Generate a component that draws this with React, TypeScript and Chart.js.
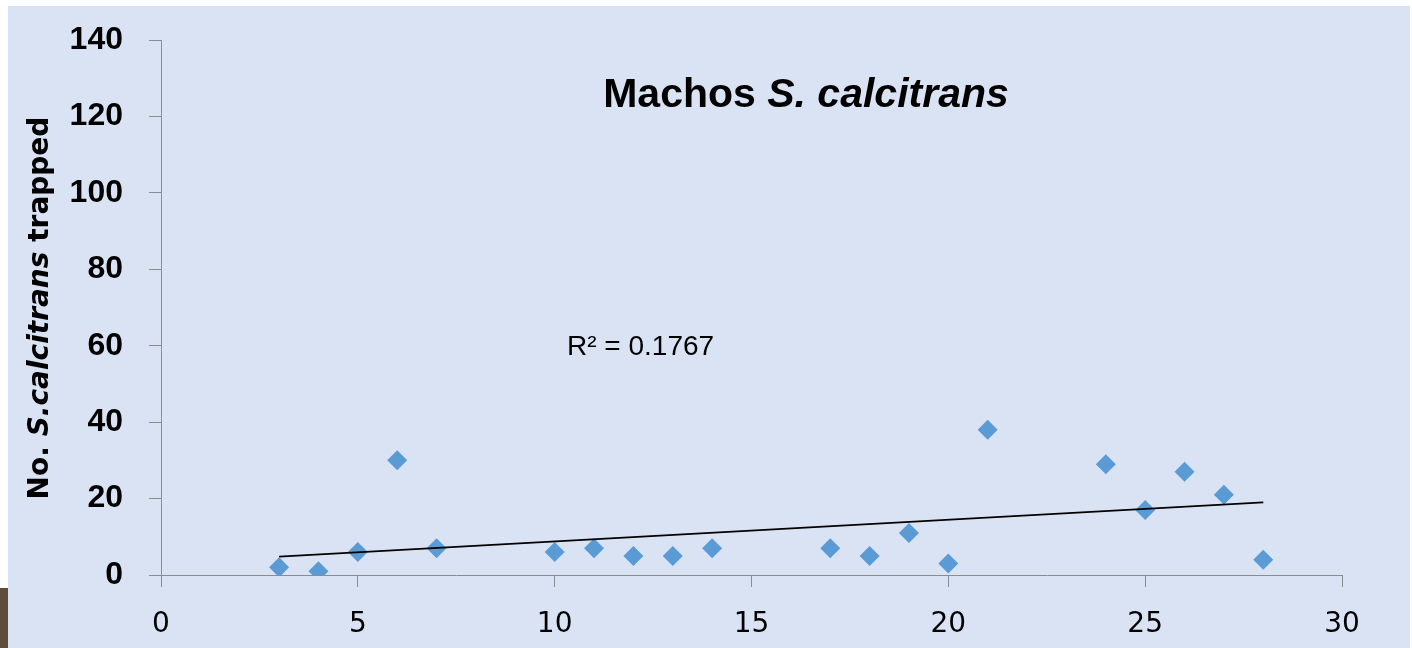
import React, { useEffect, useRef } from "react";
import { Chart, registerables } from "chart.js";

Chart.register(...registerables);

// ---- data ----
const trapDays = [3, 4, 5, 6, 7, 10, 11, 12, 13, 14, 17, 18, 19, 20, 21, 24, 25, 26, 27, 28];
const maleCounts = [2, 1, 6, 30, 7, 6, 7, 5, 5, 7, 7, 5, 11, 3, 38, 29, 17, 27, 21, 4];
const xTickValues = [0, 5, 10, 15, 20, 25, 30];
const yTickValues = [0, 20, 40, 60, 80, 100, 120, 140];
const titleParts = [
  { text: "Machos ", italic: false },
  { text: "S. calcitrans", italic: true },
];
const yTitleParts = [
  { text: "No. ", italic: false },
  { text: "S.calcitrans", italic: true },
  { text: " trapped", italic: false },
];

function linearFit(xs: number[], ys: number[]) {
  const n = xs.length;
  const mx = xs.reduce((a, b) => a + b, 0) / n;
  const my = ys.reduce((a, b) => a + b, 0) / n;
  let sxy = 0, sxx = 0, syy = 0;
  for (let i = 0; i < n; i++) {
    sxy += (xs[i] - mx) * (ys[i] - my);
    sxx += (xs[i] - mx) ** 2;
    syy += (ys[i] - my) ** 2;
  }
  const slope = sxy / sxx;
  const intercept = my - slope * mx;
  return { slope, intercept, r2: (sxy * sxy) / (sxx * syy) };
}

const BG = "#dae3f3";
const AXIS = "#8c8c8c";

function drawRich(
  ctx: CanvasRenderingContext2D,
  parts: { text: string; italic: boolean }[],
  family: string,
  size: number,
  cx: number,
  baseline: number,
  rotate: boolean
) {
  ctx.save();
  ctx.fillStyle = "#000";
  ctx.textBaseline = "alphabetic";
  ctx.textAlign = "left";
  const fontOf = (it: boolean) => `${it ? "italic " : ""}bold ${size}px "${family}"`;
  let total = 0;
  const widths = parts.map((p) => {
    ctx.font = fontOf(p.italic);
    const w = ctx.measureText(p.text).width;
    total += w;
    return w;
  });
  if (rotate) {
    ctx.translate(baseline, cx);
    ctx.rotate(-Math.PI / 2);
    let x = -total / 2;
    parts.forEach((p, i) => {
      ctx.font = fontOf(p.italic);
      ctx.fillText(p.text, x, 0);
      x += widths[i];
    });
  } else {
    let x = cx - total / 2;
    parts.forEach((p, i) => {
      ctx.font = fontOf(p.italic);
      ctx.fillText(p.text, x, baseline);
      x += widths[i];
    });
  }
  ctx.restore();
}

export default function App() {
  const ref = useRef<HTMLCanvasElement | null>(null);

  useEffect(() => {
    if (!ref.current) return;
    const fit = linearFit(trapDays, maleCounts);
    const xMin = Math.min(...trapDays);
    const xMax = Math.max(...trapDays);
    const trend = [
      { x: xMin, y: fit.intercept + fit.slope * xMin },
      { x: xMax, y: fit.intercept + fit.slope * xMax },
    ];
    const points = trapDays.map((d, i) => ({ x: d, y: maleCounts[i] }));

    const decor = {
      id: "decor",
      beforeDraw(chart: any) {
        const { ctx, width, height } = chart;
        ctx.save();
        ctx.fillStyle = BG;
        ctx.fillRect(0, 0, width, height);
        ctx.restore();
      },
      afterDraw(chart: any) {
        const ctx = chart.ctx as CanvasRenderingContext2D;
        drawRich(ctx, titleParts, "Liberation Sans", 41, 798, 101, false);
        drawRich(ctx, yTitleParts, "DejaVu Sans", 28, 302, 40, true);
        ctx.save();
        ctx.fillStyle = "#000";
        ctx.font = '28px "Liberation Sans"';
        ctx.textAlign = "left";
        ctx.textBaseline = "alphabetic";
        ctx.fillText(`R\u00B2 = ${fit.r2.toFixed(4)}`, 559, 349);
        ctx.restore();
      },
    };

    const chart = new Chart(ref.current, {
      type: "scatter",
      data: {
        datasets: [
          {
            type: "line",
            label: "trend",
            data: trend,
            borderColor: "#000",
            borderWidth: 1.6,
            pointRadius: 0,
            fill: false,
            order: 0,
          } as any,
          {
            type: "scatter",
            label: "Machos",
            data: points,
            pointStyle: "rectRot",
            pointRadius: 10,
            backgroundColor: "#5b9bd5",
            borderWidth: 0,
            order: 1,
          } as any,
        ],
      },
      options: {
        responsive: false,
        animation: false,
        layout: { padding: { top: 34, right: 68, bottom: 0, left: 0 } },
        plugins: {
          legend: { display: false },
          tooltip: { enabled: false },
          title: { display: false },
        },
        scales: {
          x: {
            type: "linear",
            min: 0,
            max: 30,
            afterBuildTicks: (s: any) => {
              s.ticks = xTickValues.map((v) => ({ value: v }));
            },
            afterFit: (s: any) => {
              s.height = 73;
              s.paddingLeft = 0;
              s.paddingRight = 0;
            },
            grid: {
              display: true,
              drawOnChartArea: false,
              drawTicks: true,
              tickLength: 12,
              color: AXIS,
              lineWidth: 1,
            },
            border: { display: true, color: AXIS, width: 1 },
            ticks: {
              font: { family: "DejaVu Sans", size: 28 },
              color: "#000",
              padding: 21,
              maxRotation: 0,
              autoSkip: false,
            },
          },
          y: {
            type: "linear",
            min: 0,
            max: 140,
            afterBuildTicks: (s: any) => {
              s.ticks = yTickValues.map((v) => ({ value: v }));
            },
            afterFit: (s: any) => {
              s.width = 153;
              s.paddingTop = 0;
              s.paddingBottom = 0;
            },
            grid: {
              display: true,
              drawOnChartArea: false,
              drawTicks: true,
              tickLength: 12,
              color: AXIS,
              lineWidth: 1,
            },
            border: { display: true, color: AXIS, width: 1 },
            ticks: {
              font: { family: "Liberation Sans", size: 32, weight: "bold" },
              color: "#000",
              padding: 26,
              autoSkip: false,
            },
          },
        },
      },
      plugins: [decor],
    } as any);

    return () => chart.destroy();
  }, []);

  return (
    <>
      <div
        style={{
          position: "absolute",
          left: 8,
          top: 6,
          width: 1402,
          height: 642,
        }}
      >
        <canvas ref={ref} width={1402} height={642} style={{ display: "block" }} />
      </div>
      <div
        style={{
          position: "absolute",
          left: 0,
          top: 588,
          width: 8,
          height: 60,
          background: "#5e4c3c",
        }}
      />
    </>
  );
}
